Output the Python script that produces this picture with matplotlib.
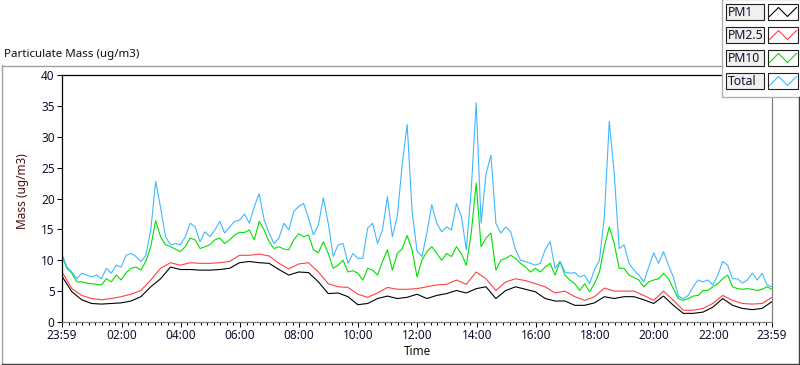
import numpy as np
import matplotlib
matplotlib.use("Agg")
import matplotlib.pyplot as plt
from matplotlib.patches import Rectangle

plt.rcParams['font.family'] = ['Noto Sans', 'DejaVu Sans']

# sampling: PM10 / Total every 10 min, PM1 / PM2.5 every 20 min, from 23:59
total = [11.0, 8.9, 8.1, 7.0, 7.9, 7.6, 7.3, 7.6, 7.0, 8.7, 7.9, 9.2, 8.9, 10.8, 11.1, 10.6, 9.8, 10.8, 14.9, 22.8,
         18.5, 13.8, 12.5, 12.7, 12.5, 13.8, 16.0, 15.4, 13.0, 14.6, 13.8, 14.9, 16.3, 14.4, 15.4, 16.3, 16.5,
         17.5, 16.0, 18.7, 20.8, 16.5, 14.4, 12.7, 13.6, 16.0, 14.9, 17.9, 18.7, 19.2, 16.8, 14.1, 15.7, 20.1, 16.0,
         10.6, 12.5, 12.7, 9.5, 11.1, 10.3, 10.3, 15.2, 16.0, 12.7, 14.9, 20.3, 13.8, 17.1, 25.5, 32.0, 18.0, 11.5,
         10.6, 14.4, 19.0, 16.0, 14.6, 15.4, 14.9, 19.2, 17.1, 11.7, 21.4, 35.5, 16.0, 24.0, 27.0, 16.0, 14.4, 15.4,
         14.6, 11.7, 10.0, 9.8, 9.5, 9.2, 9.5, 11.7, 13.0, 8.7, 9.8, 8.1, 7.9, 8.0, 7.3, 7.6, 6.2, 8.5,
         10.0, 17.1, 32.5, 24.1, 11.9, 12.5, 9.5, 8.4, 7.6, 6.5, 8.9, 11.2, 9.5, 11.4, 9.2, 7.3, 4.2, 3.8,
         4.3, 5.7, 6.8, 6.5, 6.8, 6.0, 7.6, 9.8, 9.2, 7.0, 7.0, 6.3, 6.8, 7.9, 6.8, 7.9, 6.0, 5.7]
pm10 = [10.6, 8.7, 7.9, 6.5, 6.5, 6.3, 6.2, 6.1, 6.0, 7.0, 6.5, 7.6, 6.8, 8.0, 8.7, 8.9, 8.4, 9.8, 12.2, 16.4,
        13.8, 12.5, 12.2, 11.8, 11.4, 12.2, 13.6, 13.3, 11.9, 12.2, 12.5, 13.3, 13.6, 12.7, 13.3, 14.1, 14.5,
        14.5, 14.9, 13.3, 16.3, 14.9, 13.0, 11.9, 12.2, 11.8, 11.7, 13.3, 14.3, 13.8, 14.1, 11.7, 11.2, 13.0, 11.1,
        8.7, 9.2, 10.0, 8.1, 8.3, 7.9, 6.8, 8.7, 8.4, 7.6, 9.8, 11.7, 8.4, 11.1, 11.9, 14.0, 11.7, 7.3,
        10.0, 11.4, 12.2, 11.1, 10.0, 11.1, 10.6, 12.2, 11.1, 9.2, 14.4, 22.5, 12.2, 13.6, 14.4, 8.4, 10.0, 10.3,
        10.8, 10.3, 9.5, 8.9, 8.1, 8.7, 8.1, 8.9, 9.5, 7.6, 9.8, 7.6, 6.8, 6.2, 5.1, 6.2, 4.9, 6.2,
        8.1, 12.2, 15.4, 12.7, 8.7, 8.7, 7.6, 7.2, 6.8, 5.7, 6.5, 6.8, 7.0, 7.9, 7.0, 5.4, 3.8, 3.5,
        3.8, 4.2, 4.3, 5.1, 5.1, 5.7, 6.2, 7.0, 7.6, 5.7, 5.4, 5.3, 5.4, 5.3, 5.1, 5.3, 5.7, 5.3]
pm25 = [8.1, 5.4, 4.3, 3.8, 3.6, 3.8, 4.1, 4.5, 5.1, 6.8, 8.7, 9.6, 9.2, 9.6, 9.5, 9.5, 9.6, 9.8, 10.8,
        10.8, 11.0, 10.7, 9.5, 8.6, 9.4, 9.6, 8.1, 6.2, 5.7, 5.6, 4.5, 4.0, 4.7, 5.6, 5.3, 5.3, 5.4,
        5.7, 6.0, 6.1, 6.8, 6.1, 8.1, 7.0, 5.1, 6.5, 7.0, 6.7, 6.2, 5.7, 4.7, 5.0, 4.1, 3.5, 4.1,
        5.5, 5.0, 5.0, 5.0, 4.3, 3.5, 5.0, 3.5, 1.9, 1.9, 2.2, 3.0, 4.3, 3.5, 3.0, 2.9, 3.0, 4.0]
pm1 = [7.4, 4.9, 3.6, 3.0, 2.9, 3.0, 3.1, 3.4, 4.1, 5.7, 7.0, 8.9, 8.5, 8.5, 8.4, 8.4, 8.5, 8.7, 9.6,
       9.8, 9.6, 9.5, 8.5, 7.6, 8.1, 8.0, 6.5, 4.6, 4.7, 4.1, 2.8, 3.0, 3.8, 4.2, 3.8, 4.0, 4.5,
       3.8, 4.3, 4.6, 5.1, 4.7, 5.4, 5.7, 3.8, 5.1, 5.7, 5.3, 4.9, 3.8, 3.4, 3.4, 2.7, 2.7, 3.1,
       4.1, 3.8, 4.1, 4.1, 3.6, 3.0, 4.2, 2.7, 1.4, 1.4, 1.6, 2.4, 3.8, 2.7, 2.2, 2.0, 2.2, 3.3]

series_names = ["PM1", "PM2.5", "PM10", "Total"]
series_colors = ["#000000", "#ff4040", "#00e000", "#40b8ff"]
x_ticklabels = ["23:59", "02:00", "04:00", "06:00", "08:00", "10:00", "12:00",
                "14:00", "16:00", "18:00", "20:00", "22:00", "23:59"]

# hours since 23:59
t10 = np.arange(len(total)) / 6.0
t20 = np.arange(len(pm1)) / 3.0

W, H = 800, 365
fig = plt.figure(figsize=(W / 100, H / 100), dpi=100)
fig.patch.set_facecolor("white")

ax = fig.add_axes([62 / W, 1 - 322 / H, (772 - 62) / W, (322 - 75) / H])
lw = 0.8
ax.plot(t20, pm1, color=series_colors[0], lw=lw)
ax.plot(t20, pm25, color=series_colors[1], lw=lw)
ax.plot(t10, pm10, color=series_colors[2], lw=lw)
ax.plot(t10, total, color=series_colors[3], lw=lw)

ax.set_xlim(0, 24)
ax.set_ylim(0, 40)
ax.set_yticks(np.arange(0, 41, 5))
major = [0] + [h + 1 / 60 for h in range(2, 23, 2)] + [24]
ax.set_xticks(major)
ax.set_xticklabels(x_ticklabels)
ax.set_xticks([1 / 60 + j * 2 / 9 for j in range(1, 108) if (j % 9) != 0], minor=True)

txt = "#101030"
ax.tick_params(axis="both", which="major", direction="out", length=3.8, width=0.75,
               color="black", labelsize=8.5, labelcolor=txt, pad=1.5)
ax.tick_params(axis="x", which="minor", direction="out", length=2.0, width=0.75, color="black")
ax.set_xlabel("Time", fontsize=8.5, color="#101010", labelpad=2)
ax.set_ylabel("Mass (ug/m3)", fontsize=8.5, color="#4a1010", labelpad=2)
ax.yaxis.set_label_coords(-0.046, 0.53)

for s in ["left", "top"]:
    ax.spines[s].set_color("black")
for s in ["right", "bottom"]:
    ax.spines[s].set_color("#808080")
for s in ax.spines.values():
    s.set_linewidth(0.9)

# overlay for frame, title and legend (pixel coordinates)
ov = fig.add_axes([0, 0, 1, 1], zorder=5)
ov.set_xlim(0, W)
ov.set_ylim(H, 0)
ov.axis("off")
ov.patch.set_alpha(0)

ov.plot([1.5, 1.5], [65, 364], color="#a0a0a0", lw=1)
ov.plot([1.5, 722], [65.5, 65.5], color="#a0a0a0", lw=1)
ov.plot([798.5, 798.5], [97, 364], color="#404040", lw=1)
ov.plot([1.5, 798.5], [364, 364], color="#404040", lw=1)
ov.text(4, 55, "Particulate Mass (ug/m3)", fontsize=8.3, color="#101010", va="center", ha="left")

# legend
ov.add_patch(Rectangle((722, -1), 80, 98, facecolor="white", edgecolor="#b0b0b0", lw=1))
zig_x = np.array([1.5, 10.5, 19.5, 28.5])
zig_y = np.array([12.5, 3.5, 12.5, 3.5])
for i, (name, col) in enumerate(zip(series_names, series_colors)):
    y0 = 4 + i * 23
    ov.add_patch(Rectangle((725.5, y0), 38, 16, facecolor="#f0f0f0", edgecolor="#202020", lw=0.8))
    ov.text(727.5, y0 + 8.5, name, fontsize=8.8, color=txt, va="center", ha="left")
    ov.add_patch(Rectangle((768, y0), 30, 16, facecolor="white", edgecolor="#202020", lw=0.8))
    ov.plot(768 + zig_x, y0 + zig_y, color=col, lw=0.8)

fig.savefig("out.png", dpi=100, facecolor="white")
